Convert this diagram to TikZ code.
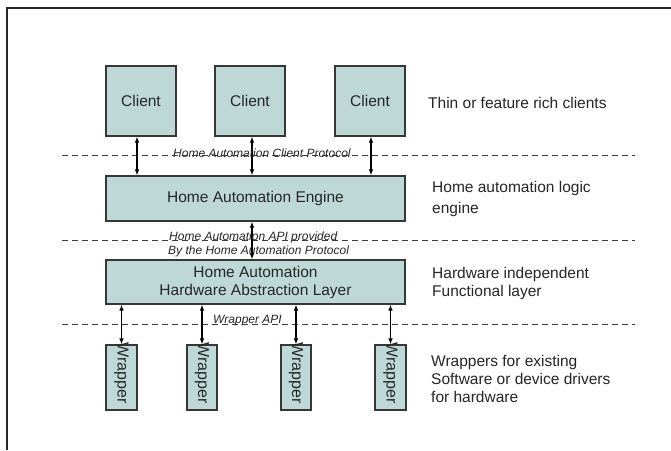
\documentclass[tikz,border=0pt]{standalone}
\usepackage{fontspec}
\setmainfont{Liberation Sans}
\usetikzlibrary{arrows.meta}
\definecolor{boxfill}{RGB}{190,216,216}
\definecolor{boxline}{RGB}{55,55,55}
\definecolor{dashcol}{RGB}{60,60,60}
\begin{document}
\begin{tikzpicture}[x=1pt,y=-1pt,
  box/.style={draw=boxline,fill=boxfill,line width=1.1pt,inner sep=0pt,
    font=\fontsize{15.5}{18}\selectfont,align=center,text=black!85},
  arr/.style={line width=1.1pt,{Latex[length=6pt,width=4.5pt]}-{Latex[length=6pt,width=4.5pt]}},
  sep/.style={dashcol,line width=1pt,dash pattern=on 6pt off 4pt},
  proto/.style={font=\fontsize{12}{14}\selectfont\itshape,inner sep=0pt,anchor=west,align=left,text=black!85},
  side/.style={font=\fontsize{15.5}{18}\selectfont,inner sep=0pt,anchor=west,align=left,text=black!85},
  wtext/.style={font=\fontsize{16}{18}\selectfont,inner sep=0pt,rotate=-90,anchor=west,text=black!85}]
\useasboundingbox (0,0) rectangle (671,450);
\fill[white] (0,0) rectangle (671,450);
% outer frame (left and top edges)
\coordinate (fb) at (6.5,450);
\coordinate (fc) at (6.5,8);
\coordinate (fr) at (671,8);
\draw[line width=2pt,black!85] (fb) -- (fc) -- (fr);

% dashed separators
\coordinate (d1l) at (62,155); \coordinate (d1r) at (635,155);
\coordinate (d2l) at (62,240); \coordinate (d2r) at (635,240);
\coordinate (d3l) at (62,324); \coordinate (d3r) at (635,324);
\draw[sep] (d1l) -- (d1r);
\draw[sep] (d2l) -- (d2r);
\draw[sep] (d3l) -- (d3r);

% clients
\node[box,minimum width=70pt,minimum height=70pt] (c1) at (141,101) {Client};
\node[box,minimum width=70pt,minimum height=70pt] (c2) at (250,101) {Client};
\node[box,minimum width=70pt,minimum height=70pt] (c3) at (370,101) {Client};

% engine
\node[box,minimum width=299pt,minimum height=45pt] (eng) at (255.5,198.5) {Home Automation Engine};

% HAL
\node[box,minimum width=299pt,minimum height=44pt] (hal) at (255.5,282) {Home Automation\\[0pt]Hardware Abstraction Layer};

% wrappers
\node[box,minimum width=31pt,minimum height=65pt] (w1) at (121.5,377.5) {};
\node[box,minimum width=30pt,minimum height=65pt] (w2) at (202,377.5) {};
\node[box,minimum width=30pt,minimum height=65pt] (w3) at (296,377.5) {};
\node[box,minimum width=31pt,minimum height=65pt] (w4) at (390.5,377.5) {};
\node[wtext] (wt1) at ([yshift=2pt]w1.north) {Wrapper};
\node[wtext] (wt2) at ([yshift=2pt]w2.north) {Wrapper};
\node[wtext] (wt3) at ([yshift=2pt]w3.north) {Wrapper};
\node[wtext] (wt4) at ([yshift=2pt]w4.north) {Wrapper};

% arrows clients - engine
\coordinate (a1) at (137,0);
\coordinate (a2) at (252,0);
\coordinate (a3) at (371,0);
\draw[arr] (c1.south -| a1) -- (eng.north -| a1);
\draw[arr] (c2.south -| a2) -- (eng.north -| a2);
\draw[arr] (c3.south -| a3) -- (eng.north -| a3);
% engine - HAL
\draw[arr] (eng.south -| a2) -- (hal.north -| a2);
% HAL - wrappers
\draw[arr] (hal.south -| w1) -- (w1.north);
\draw[arr] (hal.south -| w2) -- (w2.north);
\draw[arr] (hal.south -| w3) -- (w3.north);
\draw[arr] (hal.south -| w4) -- (w4.north);

% protocol labels
\node[proto] (p1) at (173,153) {Home Automation Client Protocol};
\node[proto] (p2) at (169,237) {Home Automation API provided};
\node[proto] (p3) at (168,251) {By the Home Automation Protocol};
\node[proto,anchor=center] (p4) at (247.5,321) {Wrapper API};

% side labels
\node[side] (s1) at (428,103) {Thin or feature rich clients};
\node[side] (s2) at (432,198.5) {Home automation logic\\[3pt]engine};
\node[side] (s3) at (432,283) {Hardware independent\\Functional layer};
\node[side] (s4) at (431,378.5) {Wrappers for existing\\Software or device drivers\\for hardware};
\end{tikzpicture}
\end{document}
